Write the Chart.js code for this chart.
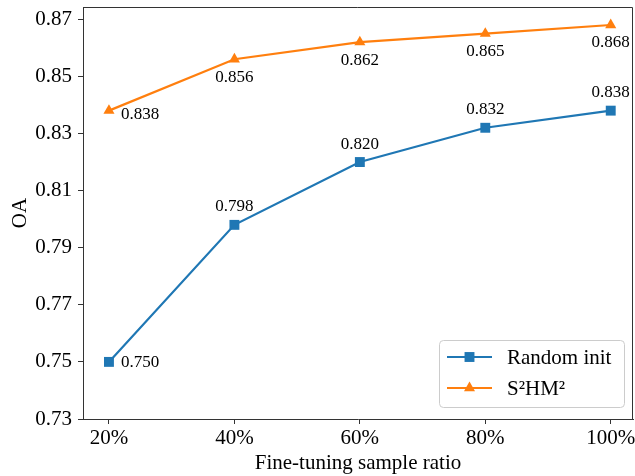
<!DOCTYPE html>
<html>
<head>
<meta charset="utf-8">
<script src="https://cdn.jsdelivr.net/npm/chart.js@4/dist/chart.umd.min.js"></script>
<style>
  html, body { margin: 0; padding: 0; background: #fff; }
  #wrap { width: 635px; height: 476px; position: relative; }
</style>
</head>
<body>
<div id="wrap"><canvas id="c" width="635" height="476"></canvas></div>
<script>
// ---- data ----
const categories = ['20%', '40%', '60%', '80%', '100%'];
const randomInit = [0.750, 0.798, 0.820, 0.832, 0.838];
const s2hm2 = [0.838, 0.856, 0.862, 0.865, 0.868];
const yTickValues = [0.73, 0.75, 0.77, 0.79, 0.81, 0.83, 0.85, 0.87];
const seriesNames = ['Random init', 'S\u00B2HM\u00B2'];

// ---- styles ----
const BLUE = '#1f77b4';
const ORANGE = '#ff7f0e';
const FONT = "'Liberation Serif', 'Times New Roman', serif";
const AXIS_COLOR = '#333333';

const xValues = categories.map(c => parseFloat(c));
const toPoints = arr => arr.map((v, i) => ({ x: xValues[i], y: v }));

// label placement: 'above', 'below', or 'right' for each point
const labelPlacement = [
  ['right', 'above', 'above', 'above', 'above'],
  ['right', 'below', 'below', 'below', 'below']
];

const frameBox = {
  id: 'frameBox',
  afterDraw(chart) {
    const { ctx, chartArea: a } = chart;
    ctx.save();
    ctx.strokeStyle = AXIS_COLOR;
    ctx.lineWidth = 1;
    ctx.beginPath();
    ctx.moveTo(a.left, a.top + 0.5);
    ctx.lineTo(a.right - 0.5, a.top + 0.5);
    ctx.lineTo(a.right - 0.5, a.bottom);
    ctx.stroke();
    ctx.restore();
  }
};

const valueLabels = {
  id: 'valueLabels',
  afterDatasetsDraw(chart) {
    const ctx = chart.ctx;
    ctx.save();
    ctx.font = '17px ' + FONT;
    ctx.fillStyle = '#000';
    chart.data.datasets.forEach((ds, di) => {
      const meta = chart.getDatasetMeta(di);
      meta.data.forEach((pt, i) => {
        const v = ds.data[i].y;
        const txt = v.toFixed(3);
        const p = labelPlacement[di][i];
        ctx.textBaseline = 'middle';
        if (p === 'right') {
          ctx.textAlign = 'left';
          ctx.fillText(txt, pt.x + 12, pt.y + (di === 0 ? 1 : 4));
        } else if (p === 'above') {
          ctx.textAlign = 'center';
          ctx.fillText(txt, pt.x, pt.y - 18);
        } else {
          ctx.textAlign = 'center';
          ctx.fillText(txt, pt.x, pt.y + 18);
        }
      });
    });
    ctx.restore();
  }
};

const customLegend = {
  id: 'customLegend',
  afterDraw(chart) {
    const { ctx, chartArea: a } = chart;
    const w = 185, h = 67;
    const x0 = a.right - 9 - w;
    const y0 = a.bottom - 12 - h;
    ctx.save();
    ctx.beginPath();
    ctx.roundRect(x0 + 0.5, y0 + 0.5, w, h, 4);
    ctx.fillStyle = 'rgba(255,255,255,0.8)';
    ctx.fill();
    ctx.strokeStyle = '#cccccc';
    ctx.lineWidth = 1;
    ctx.stroke();
    chart.data.datasets.forEach((ds, i) => {
      const cy = y0 + 17 + i * 31;
      ctx.strokeStyle = ds.borderColor;
      ctx.lineWidth = ds.borderWidth;
      ctx.beginPath();
      ctx.moveTo(x0 + 8, cy);
      ctx.lineTo(x0 + 53, cy);
      ctx.stroke();
      ctx.fillStyle = ds.backgroundColor;
      ctx.strokeStyle = ds.borderColor;
      Chart.helpers.drawPoint(ctx, {
        pointStyle: ds.pointStyle,
        radius: ds.pointRadius,
        borderWidth: 0,
        rotation: 0
      }, x0 + 30.5, cy);
      ctx.fillStyle = '#000';
      ctx.font = '21px ' + FONT;
      ctx.textAlign = 'left';
      ctx.textBaseline = 'middle';
      ctx.fillText(ds.label, x0 + 68, cy + 1);
    });
    ctx.restore();
  }
};

new Chart(document.getElementById('c'), {
  type: 'line',
  data: {
    datasets: [
      {
        label: seriesNames[0],
        data: toPoints(randomInit),
        borderColor: BLUE,
        backgroundColor: BLUE,
        borderWidth: 2.2,
        pointStyle: 'rect',
        pointRadius: 7,
        pointBorderWidth: 0,
        tension: 0
      },
      {
        label: seriesNames[1],
        data: toPoints(s2hm2),
        borderColor: ORANGE,
        backgroundColor: ORANGE,
        borderWidth: 2.2,
        pointStyle: 'triangle',
        pointRadius: 6.4,
        pointBorderWidth: 0,
        tension: 0
      }
    ]
  },
  options: {
    responsive: false,
    animation: false,
    events: [],
    layout: { autoPadding: false, padding: { left: 0, right: 2, top: 7, bottom: 0 } },
    plugins: { legend: { display: false }, tooltip: { enabled: false } },
    scales: {
      x: {
        type: 'linear',
        min: 15.86,
        max: 103.55,
        afterBuildTicks: s => { s.ticks = xValues.map(v => ({ value: v })); },
        afterFit: s => { s.height = 57; s.paddingLeft = 0; s.paddingRight = 0; },
        grid: { display: true, drawOnChartArea: false, drawTicks: true, tickLength: 5, color: AXIS_COLOR },
        border: { display: true, color: AXIS_COLOR, width: 1 },
        ticks: {
          padding: 2,
          color: '#000',
          font: { family: FONT, size: 21 },
          callback: v => categories[xValues.indexOf(v)],
          maxRotation: 0,
          autoSkip: false
        },
        title: {
          display: true,
          text: 'Fine-tuning sample ratio',
          color: '#000',
          font: { family: FONT, size: 21 },
          padding: { top: 0, bottom: 0 }
        }
      },
      y: {
        type: 'linear',
        min: 0.73,
        max: 0.8743,
        afterBuildTicks: s => { s.ticks = yTickValues.map(v => ({ value: v })); },
        afterFit: s => { s.width = 83; s.paddingTop = 0; s.paddingBottom = 0; },
        grid: { display: true, drawOnChartArea: false, drawTicks: true, tickLength: 5, color: AXIS_COLOR },
        border: { display: true, color: AXIS_COLOR, width: 1 },
        ticks: {
          padding: 6,
          color: '#000',
          font: { family: FONT, size: 21 },
          callback: v => v.toFixed(2),
          autoSkip: false
        },
        title: {
          display: true,
          text: 'OA',
          color: '#000',
          font: { family: FONT, size: 21 },
          padding: { top: 8, bottom: 0 }
        }
      }
    }
  },
  plugins: [frameBox, valueLabels, customLegend]
});
</script>
</body>
</html>
